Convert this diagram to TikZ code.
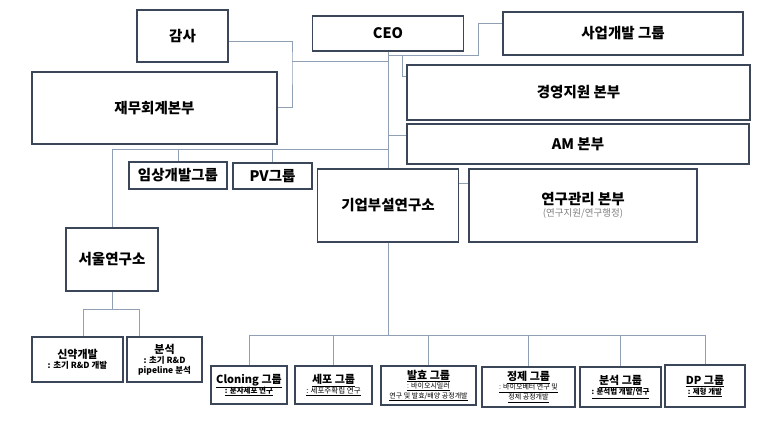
\documentclass[tikz,border=0pt]{standalone}
\usepackage{fontspec}
\setmainfont{Noto Sans CJK KR}
\usetikzlibrary{calc,positioning}
\definecolor{boxline}{HTML}{3B4658}
\definecolor{wire}{HTML}{8FA0B5}
\newcommand{\ul}[1]{\underline{#1}}
\newcommand{\subtxt}{\fontsize{7.5}{8.5}\selectfont}
\newcommand{\subtiny}{\fontsize{7}{8}\selectfont\mdseries}

\begin{document}
\begin{tikzpicture}[x=1pt,y=-1pt,
    box/.style={draw=boxline, line width=1.5pt, fill=white, align=center, inner sep=1pt,
      font=\bfseries\fontsize{14.5}{16}\selectfont},
    small/.style={box, font=\bfseries\fontsize{11}{12}\selectfont},
    grp/.style={box, font=\bfseries\fontsize{11}{12}\selectfont},
    link/.style={draw=wire, line width=1pt}]
    \useasboundingbox (0,0) rectangle (768,422);

    % top level
    \node[box, minimum width=91pt, minimum height=52pt] (gamsa) at (182.5,36) {감사};
    \node[box, minimum width=151pt, minimum height=35pt] (ceo) at (388,33.5) {CEO};
    \node[box, minimum width=240pt, minimum height=43pt] (biz) at (623,33.5) {사업개발 그룹};
    \node[box, minimum width=245pt, minimum height=72pt] (finance) at (154.5,108) {재무회계본부};
    \node[box, minimum width=343pt, minimum height=55pt] (mgmt) at (578.5,92.5) {경영지원 본부};
    \node[box, minimum width=342pt, minimum height=40pt] (am) at (578,144) {AM 본부};

    % middle
    \node[box, minimum width=98pt, minimum height=27pt] (clinic) at (178,175.5) {임상개발그룹};
    \node[box, minimum width=79pt, minimum height=26pt] (pv) at (272.5,176) {PV그룹};
    \node[box, minimum width=141pt, minimum height=73pt] (lab) at (388,205.5) {기업부설연구소};
    \node[box, minimum width=228pt, minimum height=73pt] (rnd) at (583,205.5)
      {연구관리 본부\\[-4pt]\mdseries\fontsize{9.5}{10}\selectfont\color{gray}(연구지원/연구행정)};
    \node[box, minimum width=92pt, minimum height=63pt] (seoul) at (112,259.5) {서울연구소};

    % seoul teams
    \node[small, minimum width=91pt, minimum height=45pt] (drug) at (77.5,359.5)
      {신약개발\\[-2pt]\fontsize{8.5}{9.5}\selectfont : 초기 R\&D 개발};
    \node[small, minimum width=75pt, minimum height=45pt] (anal) at (164.5,359.5)
      {분석\\[-2pt]\fontsize{8.5}{9.5}\selectfont : 초기 R\&D\\[-2pt]\fontsize{8.5}{9.5}\selectfont pipeline 분석};

    % lab groups
    \node[grp, minimum width=76pt, minimum height=38pt] (cloning) at (249,385)
      {\ul{Cloning 그룹}\\[-2pt]\subtxt\ul{: 분자세포 연구}};
    \node[grp, minimum width=77pt, minimum height=38pt] (cell) at (333.5,385)
      {\ul{세포 그룹}\\[-2pt]\subtxt\mdseries\ul{: 세포주확립 연구}};
    \node[grp, minimum width=95pt, minimum height=39pt] (ferm) at (428.5,385.5)
      {\ul{발효 그룹}\\[-3pt]\subtiny\ul{: 바이오시밀러}\\[-2pt]\subtiny\ul{연구 및 발효/배양 공정개발}};
    \node[grp, minimum width=93pt, minimum height=40pt] (purif) at (528.5,387)
      {\ul{정제 그룹}\\[-3pt]\subtiny\ul{: 바이오베터 연구 및}\\[-2pt]\subtiny\ul{정제 공정개발}};
    \node[grp, minimum width=81pt, minimum height=40pt] (assay) at (620.5,387)
      {\ul{분석 그룹}\\[-2pt]\subtxt\ul{: 분석법 개발/연구}};
    \node[grp, minimum width=80pt, minimum height=42pt] (dp) at (705,386)
      {\ul{DP 그룹}\\[-2pt]\subtxt\ul{: 제형 개발}};

    % connectors from the CEO line
    \coordinate (j1) at (292,62);
    \draw[link] ([yshift=-6pt]gamsa.east) -| (j1) |- (finance.east);
    \draw[link] (j1) -- (j1 -| ceo.south);
    \draw[link] (ceo.south |- 0,56) -| ++(90,-32) -- ([yshift=9.5pt]biz.west);
    \draw[link] ([xshift=14pt]ceo.south |- 0,56) |- ([yshift=15.5pt]mgmt.west);
    \coordinate (amtap) at ([yshift=8pt]am.west);
    \draw[link] (ceo.south |- amtap) -- (amtap);
    \draw[link] (ceo.south) -- (lab.north);

    % left branch
    \draw[link] (ceo.south |- 0,150) -| (seoul.north);
    \foreach \n in {clinic,pv}
      \draw[link] (\n.north) -- (\n.north |- 0,150);
    \draw[link] ([yshift=22pt]lab.east) -- ([yshift=22pt]rnd.west);
    \draw[link] (seoul.south) -- ++(0,18) -| ([xshift=5.5pt]drug.north);
    \draw[link] (seoul.south) -- ++(0,18) -| ([xshift=-25.5pt]anal.north);

    % lab groups
    \foreach \n in {cloning,cell,ferm,purif,assay,dp}
      \draw[link] (lab.south) -- ++(0,93) -| (\n.north);
  \end{tikzpicture}
\end{document}
